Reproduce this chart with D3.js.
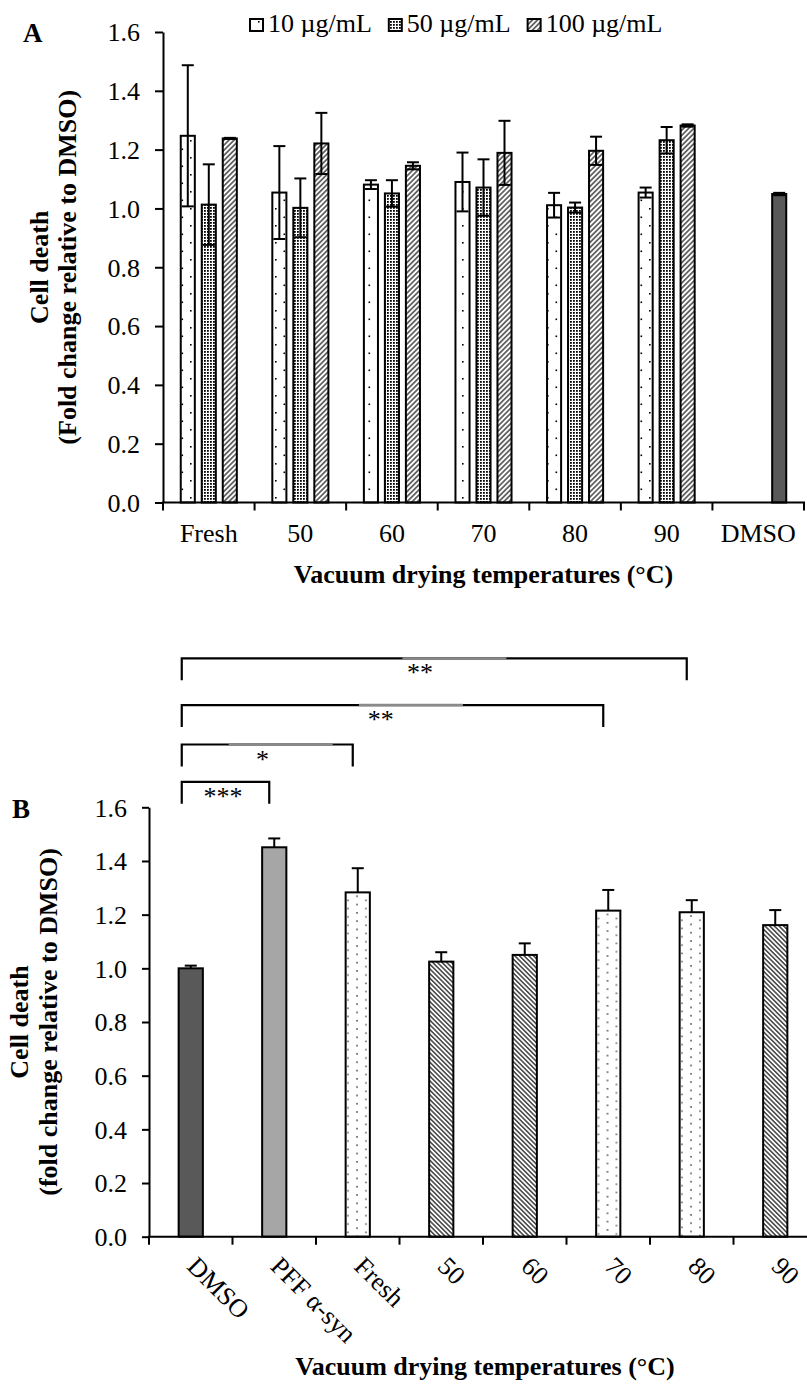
<!DOCTYPE html>
<html><head><meta charset="utf-8">
<script src="https://cdn.jsdelivr.net/npm/d3@7"></script>
<style>
body{margin:0;background:#fff}
svg{display:block}
text{font-family:"Liberation Serif","Times New Roman",serif;fill:#000}
</style>
</head><body>
<svg id="c" width="807" height="1384"></svg>
<script>
// ---------------- DATA ----------------
// Panel A
const categoriesA = ["Fresh", "50", "60", "70", "80", "90", "DMSO"];
const seriesA = ["10 µg/mL", "50 µg/mL", "100 µg/mL"];
const meanA10  = [1.247, 1.054, 1.081, 1.090, 1.011, 1.054, null];
const sdA10    = [0.240, 0.158, 0.015, 0.100, 0.042, 0.017, null];
const meanA50  = [1.013, 1.002, 1.051, 1.071, 1.003, 1.232, null];
const sdA50    = [0.137, 0.100, 0.045, 0.096, 0.017, 0.045, null];
const meanA100 = [1.238, 1.221, 1.145, 1.189, 1.196, 1.282, 1.049];
const sdA100   = [0.002, 0.104, 0.012, 0.109, 0.048, 0.004, 0.004];
const yTicks = [0, 0.2, 0.4, 0.6, 0.8, 1.0, 1.2, 1.4, 1.6];

// Panel B
const categoriesB = ["DMSO", "PFF α-syn", "Fresh", "50", "60", "70", "80", "90"];
const meanB = [1.000, 1.451, 1.283, 1.025, 1.050, 1.215, 1.209, 1.161];
const sdB   = [0.010, 0.033, 0.090, 0.035, 0.043, 0.077, 0.045, 0.056];
const comparisonsB = [
  {from: "DMSO", to: "PFF α-syn", label: "***"},
  {from: "DMSO", to: "Fresh", label: "*"},
  {from: "DMSO", to: "70", label: "**"},
  {from: "DMSO", to: "80", label: "**"}
];
const xTitle = "Vacuum drying temperatures (°C)";

// ---------------- DRAWING ----------------
const svg = d3.select("#c");
svg.append("rect").attr("width", 807).attr("height", 1384).attr("fill", "#fff");
const defs = svg.append("defs");

// patterns
function sparseDots(id) {
  const p = defs.append("pattern").attr("id", id).attr("patternUnits", "userSpaceOnUse")
    .attr("width", 17).attr("height", 17);
  p.append("rect").attr("width", 17).attr("height", 17).attr("fill", "#fff");
  p.append("rect").attr("x", 3).attr("y", 4).attr("width", 1.6).attr("height", 1.6).attr("fill", "#000");
  p.append("rect").attr("x", 11.5).attr("y", 12.5).attr("width", 1.6).attr("height", 1.6).attr("fill", "#000");
}
function denseDots(id) {
  const p = defs.append("pattern").attr("id", id).attr("patternUnits", "userSpaceOnUse")
    .attr("width", 3).attr("height", 3);
  p.append("rect").attr("width", 3).attr("height", 3).attr("fill", "#fff");
  p.append("rect").attr("width", 1.8).attr("height", 1.8).attr("fill", "#000");
}
function hatch(id, angle, spacing, lw, color) {
  const p = defs.append("pattern").attr("id", id).attr("patternUnits", "userSpaceOnUse")
    .attr("width", spacing).attr("height", spacing)
    .attr("patternTransform", `rotate(${angle})`);
  p.append("rect").attr("width", spacing).attr("height", spacing).attr("fill", "#fff");
  p.append("line").attr("x1", spacing / 2).attr("x2", spacing / 2).attr("y1", 0).attr("y2", spacing)
    .attr("stroke", color).attr("stroke-width", lw);
}
sparseDots("pA10");
denseDots("pA50");
hatch("pA100", 45, 3.6, 1.1, "#000");
hatch("pBhatch", -45, 3.3, 1.7, "#505050");

const fillA = {"10 µg/mL": "url(#pA10)", "50 µg/mL": "url(#pA50)", "100 µg/mL": "url(#pA100)"};

// ======== Panel A ========
const xA = d3.scaleBand().domain(categoriesA).range([163, 804]);
const yA = d3.scaleLinear().domain([0, 1.6]).range([502.5, 32]);
const groupW = 63;
const xA1 = d3.scaleBand().domain(seriesA).range([0, groupW]).paddingInner(0.33).paddingOuter(0.165);

const seriesDataA = [
  {name: seriesA[0], mean: meanA10, sd: sdA10},
  {name: seriesA[1], mean: meanA50, sd: sdA50},
  {name: seriesA[2], mean: meanA100, sd: sdA100}
];
const barsA = [];
seriesDataA.forEach(s => {
  categoriesA.forEach((c, i) => {
    if (s.mean[i] != null) barsA.push({cat: c, series: s.name, v: s.mean[i], sd: s.sd[i]});
  });
});
const gA = svg.append("g");
const bxA = d => xA(d.cat) + xA.bandwidth() / 2 - groupW / 2 + xA1(d.series);
gA.selectAll("rect.bar").data(barsA).join("rect")
  .attr("x", bxA).attr("width", xA1.bandwidth())
  .attr("y", d => yA(d.v)).attr("height", d => yA(0) - yA(d.v))
  .attr("fill", d => d.cat === "DMSO" ? "#595959" : fillA[d.series])
  .attr("stroke", "#000").attr("stroke-width", 2);

// error bars (both directions)
const capA = 6;
const ebA = gA.selectAll("g.eb").data(barsA).join("g");
ebA.each(function(d) {
  const g = d3.select(this);
  const cx = bxA(d) + xA1.bandwidth() / 2;
  const yt = yA(d.v + d.sd), yb = yA(d.v - d.sd);
  g.append("line").attr("x1", cx).attr("x2", cx).attr("y1", yt).attr("y2", yb);
  g.append("line").attr("x1", cx - capA).attr("x2", cx + capA).attr("y1", yt).attr("y2", yt);
  g.append("line").attr("x1", cx - capA).attr("x2", cx + capA).attr("y1", yb).attr("y2", yb);
  g.selectAll("line").attr("stroke", "#000").attr("stroke-width", 2);
});

// y axis A
const yAxisA = svg.append("g").attr("transform", `translate(${xA.range()[0]},0)`)
  .call(d3.axisLeft(yA).tickValues(yTicks).tickFormat(d3.format(".1f")).tickSize(8).tickPadding(15).tickSizeOuter(0));
yAxisA.select(".domain").attr("stroke-width", 2);
yAxisA.selectAll(".tick line").attr("stroke-width", 2);
yAxisA.selectAll(".tick text").attr("font-size", 26).attr("font-family", "Liberation Serif, Times New Roman, serif").attr("dy", "0.34em");

// x axis A
const xAxisA = svg.append("g").attr("transform", `translate(0,${yA(0)})`);
xAxisA.append("line").attr("x1", xA.range()[0] - 1).attr("x2", xA.range()[1] + 1).attr("stroke", "#000").attr("stroke-width", 2);
const bndA = categoriesA.map(c => xA(c)).concat([xA.range()[1]]);
xAxisA.selectAll("line.tk").data(bndA).join("line").attr("class", "tk")
  .attr("x1", d => d).attr("x2", d => d).attr("y1", 0).attr("y2", 8).attr("stroke", "#000").attr("stroke-width", 2);
xAxisA.selectAll("text").data(categoriesA).join("text")
  .attr("x", d => xA(d) + xA.bandwidth() / 2).attr("y", 39)
  .attr("text-anchor", "middle").attr("font-size", 26).text(d => d);

// x title A
svg.append("text").attr("x", (xA.range()[0] + xA.range()[1]) / 2).attr("y", 583)
  .attr("text-anchor", "middle").attr("font-size", 26).attr("font-weight", "bold").text(xTitle);

// y title A
const ytA = svg.append("text").attr("transform", `translate(0,${(yA(0) + yA(1.6)) / 2}) rotate(-90)`)
  .attr("text-anchor", "middle").attr("font-size", 26).attr("font-weight", "bold");
ytA.append("tspan").attr("x", 0).attr("y", 48).text("Cell death");
ytA.append("tspan").attr("x", 0).attr("y", 76).text("(Fold change relative to DMSO)");

// panel label A
svg.append("text").attr("x", 23).attr("y", 42).attr("font-size", 27).attr("font-weight", "bold").text("A");

// legend A
const legA = svg.append("g");
let lx = 250;
seriesA.forEach(s => {
  legA.append("rect").attr("x", lx).attr("y", 19).attr("width", 13).attr("height", 12)
    .attr("fill", fillA[s]).attr("stroke", "#000").attr("stroke-width", 2);
  const t = legA.append("text").attr("x", lx + 18).attr("y", 32).attr("font-size", 26).text(s);
  lx = lx + 18 + t.node().getComputedTextLength() + 17;
});

// ======== Panel B ========
const xB = d3.scaleBand().domain(categoriesB).range([149, 817]);
const yB = d3.scaleLinear().domain([0, 1.6]).range([1236.7, 807.3]);
const barFrac = 0.29;
const bwB = xB.bandwidth() * barFrac;
const styleB = {
  "DMSO": "solidDark", "PFF α-syn": "solidLight", "Fresh": "dots", "50": "hatch",
  "60": "hatch", "70": "dots", "80": "dots", "90": "hatch"
};
const barsB = categoriesB.map((c, i) => ({cat: c, v: meanB[i], sd: sdB[i], i}));
const cxB = c => xB(c) + xB.bandwidth() / 2;

// per-bar dot patterns aligned to bar centre
barsB.forEach(d => {
  if (styleB[d.cat] !== "dots") return;
  const p = defs.append("pattern").attr("id", "pBdots" + d.i).attr("patternUnits", "userSpaceOnUse")
    .attr("x", cxB(d.cat) - 0.8).attr("y", yB(d.v) + 3).attr("width", 18).attr("height", 8.3);
  p.append("rect").attr("width", 18).attr("height", 8.3).attr("fill", "#fff");
  [[0, 0], [9, 4.15], [18, 0]].forEach(([x, y]) => {
    p.append("rect").attr("x", x - 0.8).attr("y", y).attr("width", 1.6).attr("height", 1.6).attr("fill", "#666");
    p.append("rect").attr("x", x - 0.8).attr("y", y + 8.3).attr("width", 1.6).attr("height", 1.6).attr("fill", "#666");
  });
  p.append("rect").attr("x", -0.8).attr("y", 0).attr("width", 1.6).attr("height", 1.6).attr("fill", "#666");
});
function fillB(d) {
  const s = styleB[d.cat];
  if (s === "solidDark") return "#595959";
  if (s === "solidLight") return "#a6a6a6";
  if (s === "dots") return "url(#pBdots" + d.i + ")";
  return "url(#pBhatch)";
}
const gB = svg.append("g");
gB.selectAll("rect").data(barsB).join("rect")
  .attr("x", d => cxB(d.cat) - bwB / 2).attr("width", bwB)
  .attr("y", d => yB(d.v)).attr("height", d => yB(0) - yB(d.v))
  .attr("fill", fillB).attr("stroke", "#000").attr("stroke-width", 2);
// error bars (upper)
const capB = 6;
barsB.forEach(d => {
  const cx = cxB(d.cat), yt = yB(d.v + d.sd), y0 = yB(d.v);
  gB.append("line").attr("x1", cx).attr("x2", cx).attr("y1", yt).attr("y2", y0).attr("stroke", "#000").attr("stroke-width", 2);
  gB.append("line").attr("x1", cx - capB).attr("x2", cx + capB).attr("y1", yt).attr("y2", yt).attr("stroke", "#000").attr("stroke-width", 2);
});

// y axis B
const yAxisB = svg.append("g").attr("transform", `translate(${xB.range()[0]},0)`)
  .call(d3.axisLeft(yB).tickValues(yTicks).tickFormat(d3.format(".1f")).tickSize(7).tickPadding(15).tickSizeOuter(0));
yAxisB.select(".domain").attr("stroke-width", 2);
yAxisB.selectAll(".tick line").attr("stroke-width", 2);
yAxisB.selectAll(".tick text").attr("font-size", 26).attr("font-family", "Liberation Serif, Times New Roman, serif").attr("dy", "0.34em");

// x axis B
const xAxisB = svg.append("g").attr("transform", `translate(0,${yB(0)})`);
xAxisB.append("line").attr("x1", xB.range()[0] - 1).attr("x2", xB.range()[1]).attr("stroke", "#000").attr("stroke-width", 2);
const bndB = categoriesB.map(c => xB(c)).concat([xB.range()[1]]);
xAxisB.selectAll("line.tk").data(bndB).join("line").attr("class", "tk")
  .attr("x1", d => d).attr("x2", d => d).attr("y1", 0).attr("y2", 8).attr("stroke", "#000").attr("stroke-width", 2);
xAxisB.selectAll("text").data(categoriesB).join("text")
  .attr("transform", d => `translate(${cxB(d) - 5},31) rotate(45)`)
  .attr("text-anchor", "start").attr("font-size", 26).text(d => d);

// x title B
svg.append("text").attr("x", 485).attr("y", 1375)
  .attr("text-anchor", "middle").attr("font-size", 26).attr("font-weight", "bold").text(xTitle);

// y title B
const ytB = svg.append("text").attr("transform", `translate(0,${(yB(0) + yB(1.6)) / 2}) rotate(-90)`)
  .attr("text-anchor", "middle").attr("font-size", 26).attr("font-weight", "bold");
ytB.append("tspan").attr("x", 0).attr("y", 28).text("Cell death");
ytB.append("tspan").attr("x", 0).attr("y", 57).text("(fold change relative to DMSO)");

// panel label B
svg.append("text").attr("x", 12).attr("y", 818).attr("font-size", 27).attr("font-weight", "bold").text("B");

// significance brackets (levels in data units above the axis)
const bracketLevels = [1.695, 1.834, 1.981, 2.155];
const legLen = 22;
const gS = svg.append("g");
comparisonsB.forEach((cmp, k) => {
  const x1 = cxB(cmp.from) - 9, x2 = cxB(cmp.to) - 5;
  const y = yB(bracketLevels[k]);
  gS.append("path").attr("d", `M${x1},${y + legLen}V${y}H${x2}V${y + legLen}`)
    .attr("fill", "none").attr("stroke", "#000").attr("stroke-width", 2.2);
  const mid = (x1 + x2) / 2 - 0.028 * (x2 - x1);
  if (k > 0) {
    const gx = mid + 0.048 * (x2 - x1) + 10;
    gS.append("line").attr("x1", gx - 52).attr("x2", gx + 52).attr("y1", y).attr("y2", y)
      .attr("stroke", "#8a8a8a").attr("stroke-width", 2.4);
  }
  gS.append("text").attr("x", mid).attr("y", y + 23).attr("text-anchor", "middle")
    .attr("font-size", 26).text(cmp.label);
});
</script>
</body></html>
